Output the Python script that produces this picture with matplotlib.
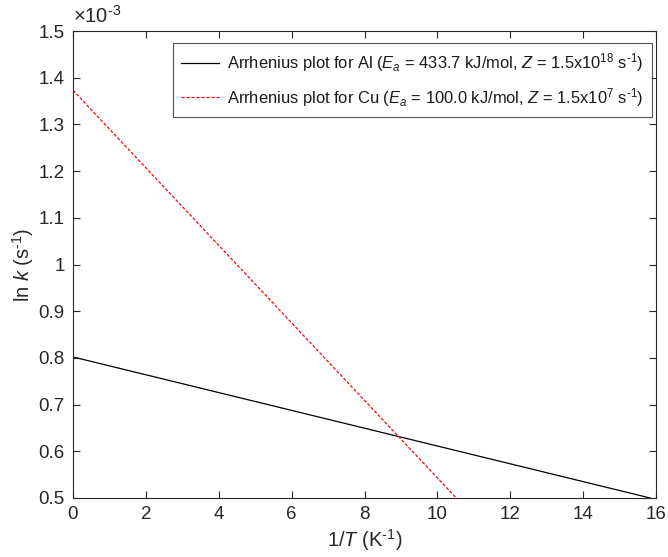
import matplotlib
matplotlib.use("Agg")
import matplotlib.pyplot as plt
import matplotlib.ticker as mticker

plt.rcParams['font.family'] = ['Liberation Sans', 'DejaVu Sans']
plt.rcParams['mathtext.fontset'] = 'custom'
plt.rcParams['mathtext.rm'] = 'Liberation Sans'
plt.rcParams['mathtext.it'] = 'Liberation Sans:italic'

# Data
inv_T_al = [0.0, 15.84]
lnk_al = [0.802e-3, 0.500e-3]
inv_T_cu = [0.0, 10.52]
lnk_cu = [1.373e-3, 0.500e-3]

label_al = r'Arrhenius plot for Al ($E_a$ = 433.7 kJ/mol, $Z$ = 1.5x10$^{18}$ s$^{\text{-1}}$)'
label_cu = r'Arrhenius plot for Cu ($E_a$ = 100.0 kJ/mol, $Z$ = 1.5x10$^{7}$ s$^{\text{-1}}$)'

x_ticks = [0, 2, 4, 6, 8, 10, 12, 14, 16]
y_ticks = [0.5e-3, 0.6e-3, 0.7e-3, 0.8e-3, 0.9e-3, 1.0e-3, 1.1e-3, 1.2e-3, 1.3e-3, 1.4e-3, 1.5e-3]

fig = plt.figure(figsize=(6.68, 5.57), dpi=100)
ax = fig.add_axes([73/668, 59/557, (656-73)/668, (498-31)/557])

ax.plot(inv_T_al, lnk_al, color='black', lw=0.9, label=label_al)
ax.plot(inv_T_cu, lnk_cu, color='red', lw=0.9, linestyle=(0, (2.5, 1.5)), label=label_cu)

ax.set_xlim(0, 16)
ax.set_ylim(0.5e-3, 1.5e-3)
ax.set_xticks(x_ticks)
ax.set_yticks(y_ticks)

def yfmt(v, pos):
    s = f"{v*1e3:.1f}"
    if s.endswith('.0'):
        s = s[:-2]
    return s
ax.yaxis.set_major_formatter(mticker.FuncFormatter(yfmt))

axcol = '#262626'
for sp in ax.spines.values():
    sp.set_color(axcol)
    sp.set_linewidth(0.8)
ax.tick_params(direction='in', top=True, right=True, length=5, width=0.8,
               colors=axcol, labelsize=13.5, labelcolor=axcol, pad=6)

ax.text(0.0, 1.01, '$\\times$10$^{\\text{-3}}$', transform=ax.transAxes, fontsize=14.5,
        color=axcol, ha='left', va='bottom')

ax.set_xlabel(r'1/$T$ (K$^{\text{-1}}$)', fontsize=14.5, color=axcol, labelpad=3)
ax.set_ylabel(r'ln $k$ (s$^{\text{-1}}$)', fontsize=14.5, color=axcol, labelpad=2)

leg = ax.legend(loc='upper right', fontsize=11.85, frameon=True, fancybox=False,
                edgecolor=axcol, handlelength=2.3, handletextpad=0.5,
                borderpad=0.5, labelspacing=0.7, borderaxespad=0,
                bbox_to_anchor=(0.993, 0.974))
leg.get_frame().set_linewidth(0.8)
for t in leg.get_texts():
    t.set_color('#1a1a1a')

fig.savefig('out.png', dpi=100)
